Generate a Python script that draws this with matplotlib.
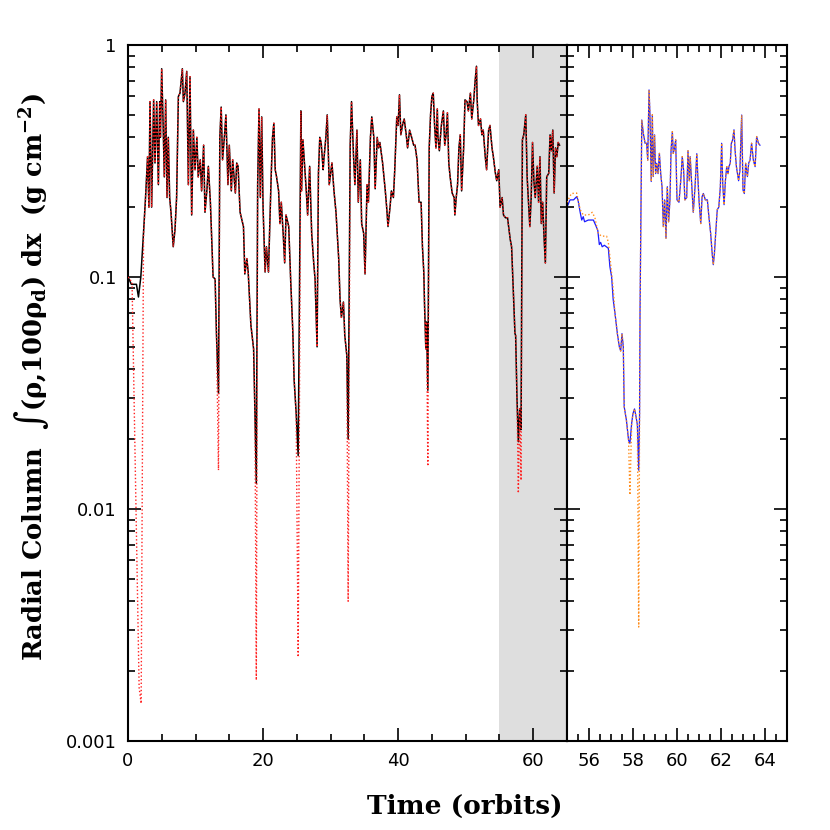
import matplotlib
matplotlib.use("Agg")
import matplotlib.pyplot as plt
from matplotlib.ticker import MultipleLocator, LogLocator, NullFormatter, FixedFormatter, FixedLocator

plt.rcParams['mathtext.fontset'] = 'dejavuserif'

# ---- data ----
# full run, left panel (black solid)
black_t = [0.0, 0.5, 1.25, 1.55, 1.9, 2.27, 2.6, 2.9, 3.1, 3.26, 3.5, 3.8, 4.0, 4.25, 4.5, 4.7, 4.8, 4.99,
           5.2, 5.38, 5.58, 5.78, 5.97, 6.17, 6.37, 6.7, 6.96, 7.2, 7.46, 7.7, 8.05, 8.2, 8.44, 8.7, 8.94,
           9.18, 9.43, 9.68, 9.93, 10.2, 10.4, 10.7, 10.9, 11.2, 11.4, 11.7, 11.9, 12.2, 12.6, 12.9, 13.1,
           13.4, 13.6, 13.8, 14.0, 14.3, 14.5, 14.8, 15.0, 15.3, 15.5, 15.9, 16.1, 16.3, 16.6, 17.1, 17.3,
           17.6, 17.8, 18.2, 18.6, 18.8, 19.0, 19.2, 19.4, 19.6, 19.8, 20.0, 20.3, 20.5, 20.8, 21.2, 21.4,
           21.6, 21.8, 22.0, 22.3, 22.5, 22.7, 23.0, 23.2, 23.4, 23.8, 24.1, 24.4, 24.6, 24.9, 25.2, 25.6,
           25.7, 25.9, 26.1, 26.4, 26.6, 26.9, 27.2, 27.5, 27.7, 28.0, 28.2, 28.4, 28.6, 28.9, 29.0, 29.3,
           29.5, 29.8, 30.2, 30.5, 30.8, 31.2, 31.4, 31.6, 31.9, 32.1, 32.4, 32.6, 32.9, 33.1, 33.4, 33.6,
           33.9, 34.1, 34.4, 34.6, 34.9, 35.1, 35.4, 35.6, 35.9, 36.1, 36.4, 36.6, 36.9, 37.1, 37.3, 37.7,
           38.1, 38.3, 38.5, 38.8, 39.0, 39.3, 39.5, 39.8, 40.0, 40.2, 40.4, 40.7, 40.9, 41.2, 41.4, 41.7,
           42.0, 42.3, 42.5, 42.8, 43.1, 43.4, 43.6, 43.8, 43.9, 44.1, 44.2, 44.4, 44.6, 44.8, 45.0, 45.2,
           45.4, 45.6, 45.8, 45.9, 46.1, 46.4, 46.7, 46.9, 47.1, 47.3, 47.5, 47.7, 48.0, 48.3, 48.4, 48.6,
           48.8, 49.0, 49.2, 49.4, 49.7, 49.9, 50.2, 50.4, 50.7, 50.9, 51.2, 51.4, 51.6, 51.7, 51.9, 52.2,
           52.4, 52.6, 52.9, 53.1, 53.4, 53.6, 53.9, 54.1, 54.4, 54.6, 54.9, 55.1, 55.4, 55.6, 55.9, 56.2,
           56.6, 56.8, 57.0, 57.3, 57.4, 57.6, 57.8, 58.0, 58.2, 58.4, 58.6, 58.9, 59.1, 59.3, 59.5, 59.7,
           59.9, 60.1, 60.3, 60.6, 60.8, 61.0, 61.2, 61.4, 61.6, 61.8, 62.0, 62.3, 62.5, 62.7, 62.9, 63.1,
           63.3, 63.5, 63.7, 63.9]
black_v = [0.10, 0.093, 0.093, 0.082, 0.10, 0.15, 0.22, 0.33, 0.20, 0.57, 0.20, 0.58, 0.31, 0.57, 0.25, 0.57, 0.40, 0.79,
           0.46, 0.27, 0.58, 0.22, 0.40, 0.22, 0.19, 0.135, 0.16, 0.22, 0.60, 0.62, 0.79, 0.57, 0.62, 0.77, 0.25,
           0.73, 0.185, 0.43, 0.29, 0.40, 0.27, 0.32, 0.235, 0.37, 0.19, 0.24, 0.30, 0.21, 0.10, 0.098, 0.057,
           0.0315, 0.40, 0.54, 0.32, 0.41, 0.50, 0.25, 0.37, 0.235, 0.32, 0.23, 0.31, 0.30, 0.19, 0.165, 0.103,
           0.12, 0.105, 0.062, 0.049, 0.026, 0.0129, 0.25, 0.53, 0.22, 0.49, 0.20, 0.105, 0.135, 0.105, 0.27, 0.40,
           0.46, 0.29, 0.27, 0.235, 0.17, 0.21, 0.15, 0.115, 0.185, 0.165, 0.095, 0.059, 0.036, 0.026, 0.017, 0.52,
           0.235, 0.39, 0.32, 0.235, 0.185, 0.30, 0.154, 0.115, 0.098, 0.050, 0.28, 0.40, 0.38, 0.29, 0.32, 0.40,
           0.50, 0.25, 0.31, 0.235, 0.19, 0.12, 0.080, 0.067, 0.078, 0.056, 0.046, 0.020, 0.37, 0.57, 0.33, 0.25,
           0.43, 0.21, 0.32, 0.17, 0.154, 0.103, 0.25, 0.21, 0.40, 0.49, 0.40, 0.24, 0.40, 0.36, 0.38, 0.31,
           0.235, 0.20, 0.165, 0.20, 0.235, 0.22, 0.29, 0.49, 0.45, 0.61, 0.41, 0.46, 0.48, 0.41, 0.36, 0.43,
           0.40, 0.37, 0.37, 0.32, 0.21, 0.21, 0.135, 0.105, 0.078, 0.049, 0.064, 0.0325, 0.36, 0.50, 0.60, 0.62,
           0.45, 0.36, 0.53, 0.40, 0.35, 0.45, 0.52, 0.37, 0.41, 0.51, 0.31, 0.27, 0.23, 0.22, 0.185, 0.22,
           0.25, 0.36, 0.41, 0.235, 0.36, 0.58, 0.57, 0.52, 0.62, 0.48, 0.58, 0.70, 0.81, 0.58, 0.45, 0.48,
           0.41, 0.43, 0.33, 0.29, 0.43, 0.45, 0.36, 0.33, 0.28, 0.26, 0.29, 0.20, 0.22, 0.185, 0.18, 0.18,
           0.145, 0.135, 0.095, 0.057, 0.056, 0.030, 0.0195, 0.027, 0.022, 0.39, 0.41, 0.50, 0.27, 0.21, 0.165, 0.22,
           0.38, 0.26, 0.22, 0.30, 0.21, 0.33, 0.17, 0.21, 0.15, 0.115, 0.27, 0.28, 0.41, 0.35, 0.43, 0.23,
           0.36, 0.33, 0.38, 0.37]

# second quantity (red dotted): same run, differs at the start and at the deep minima
red_start_t = [0.0, 0.6, 1.65, 1.95, 2.3]
red_start_v = [0.10, 0.095, 0.0017, 0.00145, 0.15]
red_dip_t = [13.4, 19.0, 25.2, 32.6, 44.4, 57.8, 58.2]
red_dip_v = [0.0147, 0.00183, 0.0023, 0.0040, 0.0153, 0.0117, 0.0133]

# zoomed panel (blue solid)
blue_t = [55.0, 55.14, 55.3, 55.44, 55.5, 55.6, 55.67, 55.74, 55.8, 55.97, 56.2, 56.27, 56.4, 56.47, 56.53,
          56.6, 56.7, 56.88, 56.95, 57.03, 57.1, 57.18, 57.29, 57.38, 57.44, 57.5, 57.56, 57.6, 57.7, 57.8,
          57.86, 57.94, 58.0, 58.07, 58.14, 58.2, 58.26, 58.3, 58.32, 58.4, 58.47, 58.55, 58.62, 58.67, 58.73,
          58.77, 58.83, 58.88, 58.92, 58.98, 59.03, 59.08, 59.14, 59.2, 59.26, 59.32, 59.38, 59.44, 59.5,
          59.56, 59.62, 59.68, 59.73, 59.79, 59.83, 59.9, 59.94, 60.0, 60.09, 60.17, 60.24, 60.3, 60.36,
          60.44, 60.5, 60.56, 60.6, 60.68, 60.74, 60.82, 60.9, 60.94, 61.0, 61.08, 61.14, 61.2, 61.29, 61.38,
          61.45, 61.53, 61.6, 61.65, 61.7, 61.77, 61.83, 61.9, 61.97, 62.03, 62.08, 62.14, 62.2, 62.26, 62.32,
          62.36, 62.42, 62.47, 62.53, 62.59, 62.64, 62.7, 62.8, 62.86, 62.94, 63.0, 63.06, 63.12, 63.2, 63.26,
          63.32, 63.39, 63.47, 63.55, 63.62, 63.7, 63.77]
blue_v = [0.20, 0.215, 0.215, 0.222, 0.215, 0.19, 0.176, 0.182, 0.173, 0.176, 0.176, 0.17, 0.159, 0.138, 0.141,
          0.135, 0.137, 0.133, 0.111, 0.10, 0.080, 0.070, 0.057, 0.050, 0.048, 0.057, 0.050, 0.0276, 0.0242, 0.0198,
          0.0192, 0.0234, 0.0258, 0.027, 0.025, 0.023, 0.0147, 0.0258, 0.070, 0.475, 0.416, 0.377, 0.377, 0.319, 0.64,
          0.507, 0.258, 0.50, 0.271, 0.41, 0.279, 0.309, 0.279, 0.341, 0.279, 0.245, 0.165, 0.215, 0.147,
          0.245, 0.173, 0.215, 0.352, 0.423, 0.341, 0.365, 0.39, 0.215, 0.21, 0.26, 0.33, 0.289, 0.215,
          0.22, 0.35, 0.26, 0.33, 0.24, 0.19, 0.245, 0.34, 0.279, 0.215, 0.17, 0.222, 0.229, 0.215, 0.215,
          0.182, 0.154, 0.126, 0.113, 0.126, 0.16, 0.195, 0.20, 0.245, 0.377, 0.25, 0.205, 0.26, 0.299, 0.279,
          0.299, 0.309, 0.377, 0.39, 0.431, 0.352, 0.299, 0.26, 0.289, 0.499, 0.237, 0.229, 0.309, 0.271, 0.31,
          0.319, 0.377, 0.319, 0.299, 0.403, 0.377, 0.37]

# zoomed panel (orange dotted): a bit higher early on, deeper minima
orange_start_t = [55.0, 55.2, 55.44, 55.6, 55.74, 55.97, 56.15, 56.27, 56.42, 56.57, 56.8, 56.88, 56.98, 57.1]
orange_start_v = [0.21, 0.229, 0.23, 0.195, 0.185, 0.185, 0.19, 0.18, 0.154, 0.15, 0.15, 0.141, 0.115, 0.089]
orange_dip_t = [57.86, 58.26]
orange_dip_v = [0.0115, 0.0031]

# ---- build the two dotted series ----
red = dict(zip(red_start_t, red_start_v))
red.update({t: v for t, v in zip(black_t, black_v) if t > red_start_t[-1]})
red.update(dict(zip(red_dip_t, red_dip_v)))
red_t = sorted(red)
red_v = [red[t] for t in red_t]

orange = dict(zip(orange_start_t, orange_start_v))
orange.update({t: v for t, v in zip(blue_t, blue_v) if t > orange_start_t[-1]})
orange.update(dict(zip(orange_dip_t, orange_dip_v)))
orange_t = sorted(orange)
orange_v = [orange[t] for t in orange_t]

# ---- figure ----
fig = plt.figure(figsize=(8.3, 8.3), dpi=100)
ax1 = fig.add_axes([0.1542, 0.1072, 0.5289, 0.8386])
ax2 = fig.add_axes([0.6831, 0.1072, 0.2651, 0.8386])

ax1.axvspan(55, 65, color='#dedede', lw=0, zorder=0)
ax1.plot(black_t, black_v, color='black', lw=1.1, zorder=2)
ax1.plot(red_t, red_v, color='#ff2020', lw=1.0, ls=(0, (1, 1.6)), zorder=3)

ax2.plot(blue_t, blue_v, color='#1a1aff', lw=0.9, zorder=2)
ax2.plot(orange_t, orange_v, color='#ff8c1a', lw=1.0, ls=(0, (1, 1.6)), zorder=3)

for ax in (ax1, ax2):
    ax.set_yscale('log')
    ax.set_ylim(0.001, 1)
    ax.yaxis.set_major_locator(LogLocator(base=10))
    ax.yaxis.set_minor_locator(LogLocator(base=10, subs=range(2, 10)))
    ax.yaxis.set_minor_formatter(NullFormatter())
    ax.tick_params(which='both', direction='in', top=True, right=True, width=1.2, labelsize=13)
    ax.tick_params(which='major', length=9.5, pad=8)
    ax.tick_params(which='minor', length=5)
    for s in ax.spines.values():
        s.set_linewidth(1.5)

ax1.set_xlim(0, 65)
ax1.xaxis.set_major_locator(MultipleLocator(20))
ax1.xaxis.set_minor_locator(MultipleLocator(5))
ax1.yaxis.set_major_locator(FixedLocator([0.001, 0.01, 0.1, 1]))
ax1.yaxis.set_major_formatter(FixedFormatter(['0.001', '0.01', '0.1', '1']))

ax2.set_xlim(55, 65)
ax2.xaxis.set_major_locator(FixedLocator([56, 58, 60, 62, 64]))
ax2.xaxis.set_minor_locator(MultipleLocator(0.5))
ax2.tick_params(axis='y', labelleft=False)

fig.text(0.56, 0.029, 'Time (orbits)', ha='center', va='center',
         family='DejaVu Serif', fontweight='bold', fontsize=19)
fig.text(0.038, 0.546,
         'Radial Column  \u222b(\u03c1,100\u03c1$_{\\mathbf{d}}$) dx  (g cm$^{\\mathbf{-2}}$)',
         ha='center', va='center', rotation=90,
         family='DejaVu Serif', fontweight='bold', fontsize=18.5)

fig.savefig('out.png', dpi=100)
